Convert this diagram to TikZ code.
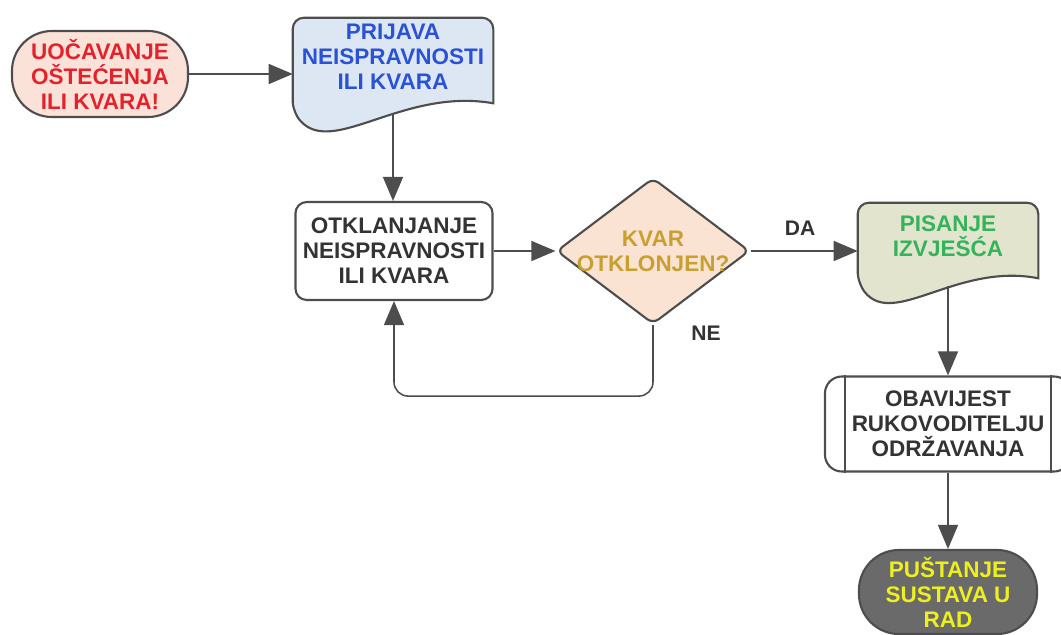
\documentclass[tikz,border=0pt]{standalone}
\usepackage{fontspec}
\setmainfont{Liberation Sans}
\usetikzlibrary{calc,arrows.meta,shapes.geometric,backgrounds}
\definecolor{rub}{HTML}{4D4D4D}
\definecolor{tamno}{HTML}{333333}
\definecolor{roza}{HTML}{FBE2D9}
\definecolor{crvena}{HTML}{E4222B}
\definecolor{svplava}{HTML}{DCE7F3}
\definecolor{plava}{HTML}{2A52D6}
\definecolor{breskva}{HTML}{FAE3D2}
\definecolor{zlatna}{HTML}{C8A030}
\definecolor{maslina}{HTML}{E2E4CE}
\definecolor{zelena}{HTML}{34B45A}
\definecolor{siva}{HTML}{6A6A6A}
\definecolor{zuta}{HTML}{EEF01E}
% document shape drawn round a text node: (node){fill}{left drop}{right drop}
\def\docshape(#1)#2#3#4{\draw[shape line,fill=#2] ($(#1.south east)+(0,#4)$) [rounded corners=8pt] -- (#1.north east) -- (#1.north west) -- ($(#1.south west)+(0,#3)$) [sharp corners] .. controls ($(#1.south west)!0.2!(#1.south east)+(0,#3+45)$) and ($(#1.south west)!0.55!(#1.south east)+(0,#4-16)$) .. ($(#1.south east)+(0,#4)$) -- cycle;}

\begin{document}
\begin{tikzpicture}[x=0.025cm,y=-0.025cm,
	shape line/.style={draw=rub, line width=1.5pt},
	box text/.style={font=\bfseries\fontsize{16}{17.8}\selectfont, align=center, inner sep=0pt},
	flow/.style={draw=rub, line width=1.1pt, -{Triangle[length=0.6cm,width=0.5cm]}},
	terminal/.style={box text, shape line, rounded corners=1cm, minimum width=4.4cm, minimum height=2.15cm}]
		%%%%% START %%%%%
		\useasboundingbox (0,0) rectangle (1061,635);
		
		\node[terminal, fill=roza, text=crvena] (uocavanje) at (100,74) {UOČAVANJE\\OŠTEĆENJA\\ILI KVARA!};
		
		\node[box text, text=plava, minimum width=5cm, minimum height=1.95cm] (prijava) at (393,57) {PRIJAVA\\NEISPRAVNOSTI\\ILI KVARA};
		\coordinate (prijava-dno) at ($(prijava.south)+(0,17)$);
		
		\node[box text, text=tamno, shape line, fill=white, rounded corners=8pt, minimum width=4.925cm, minimum height=2.45cm] (otklanjanje) at (394,251) {OTKLANJANJE\\NEISPRAVNOSTI\\ILI KVARA};
		
		\node[shape line, fill=breskva, diamond, inner sep=0pt, rounded corners=5pt, minimum width=4.825cm, minimum height=3.65cm] (kvar) at (653,251) {};
		\node[box text, text=zlatna] (kvar-tekst) at (kvar) {KVAR\\OTKLONJEN?};
		
		\node[box text, text=zelena, minimum width=4.5cm, minimum height=1.65cm] (pisanje) at (948,236) {PISANJE\\IZVJEŠĆA};
		\coordinate (pisanje-dno) at ($(pisanje.south)+(0,17)$);
		
		\node[box text, text=tamno, shape line, fill=white, rounded corners=12pt, minimum width=6.15cm, minimum height=2.375cm] (obavijest) at (948,424) {OBAVIJEST\\RUKOVODITELJU\\ODRŽAVANJA};
		\draw[shape line] ($(obavijest.north west)+(21,0)$) -- ($(obavijest.south west)+(21,0)$);
		\draw[shape line] ($(obavijest.north east)+(-21,0)$) -- ($(obavijest.south east)+(-21,0)$);
		
		\node[terminal, fill=siva, text=zuta, minimum width=4.45cm, minimum height=2.1cm] (pustanje) at (948,592) {PUŠTANJE\\SUSTAVA U\\RAD};
		
		\begin{scope}[on background layer]
			\docshape(prijava){svplava}{16}{7}
			\docshape(pisanje){maslina}{14}{9}
		\end{scope}
		
		% connectors
		\draw[flow] (uocavanje.east) -- (uocavanje.east -| prijava.west);
		\draw[flow] (prijava-dno) -- (prijava-dno |- otklanjanje.north);
		\draw[flow] (otklanjanje.east) -- (kvar.west);
		\draw[flow] (kvar.east) -- (kvar.east -| pisanje.west);
		\draw[flow, rounded corners=10pt] (kvar.south) -- ++(0,71) -| (otklanjanje.south);
		\draw[flow] (pisanje-dno) -- (obavijest.north);
		\draw[flow] (obavijest.south) -- (pustanje.north);
		
		\node[box text, text=tamno, font=\bfseries\fontsize{15}{17}\selectfont] (da) at (800,228) {DA};
		\node[box text, text=tamno, font=\bfseries\fontsize{15}{17}\selectfont] (ne) at (706,333) {NE};
		%%%%% END %%%%%
	\end{tikzpicture}
\end{document}
